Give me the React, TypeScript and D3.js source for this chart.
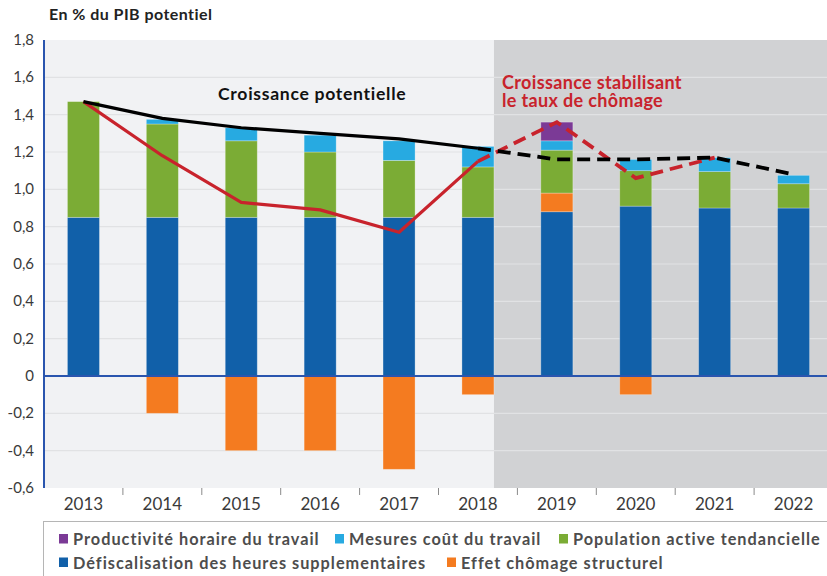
import React from "react";
import * as d3 from "d3";

const years = ["2013","2014","2015","2016","2017","2018","2019","2020","2021","2022"];
const defiscalisation = [0.85,0.85,0.85,0.85,0.85,0.85,0.88,0.91,0.90,0.90];
const effetChomage = [0,-0.2,-0.4,-0.4,-0.5,-0.1,0.10,-0.1,0,0];
const populationActive = [0.62,0.50,0.41,0.35,0.305,0.27,0.23,0.19,0.195,0.13];
const mesuresCout = [0,0.025,0.07,0.09,0.105,0.11,0.05,0.06,0.075,0.045];
const productivite = [0,0,0,0,0,0,0.10,0,0,0];
const croissancePotentielle = [1.47,1.38,1.33,1.30,1.27,1.22,1.16,1.16,1.17,1.08];
const croissanceStabilisant = [1.47,1.18,0.93,0.89,0.77,1.15,1.36,1.06,1.17,null];
const yTicks = [-0.6,-0.4,-0.2,0,0.2,0.4,0.6,0.8,1.0,1.2,1.4,1.6,1.8];

const seriesKeys = ["def","eff","pop","mes","prod"];
const seriesColors: Record<string,string> = {
  def: "#1160a9", eff: "#f47b20", pop: "#7bac35", mes: "#27aae1", prod: "#7b3a96",
};
const legendRow1 = [
  { key: "prod", label: "Productivité horaire du travail" },
  { key: "mes", label: "Mesures coût du travail" },
  { key: "pop", label: "Population active tendancielle" },
];
const legendRow2 = [
  { key: "def", label: "Défiscalisation des heures supplementaires" },
  { key: "eff", label: "Effet chômage structurel" },
];

const FONT = "Lato, 'Open Sans', sans-serif";

export default function App() {
  const W = 827, H = 576;
  const left = 44, right = 833, top = 40, bottom = 488;
  const x = d3.scaleBand<string>().domain(years).range([left, right]).paddingInner(0.594).paddingOuter(0.297);
  const y = d3.scaleLinear().domain([-0.6, 1.8]).range([bottom, top]);
  const bw = x.bandwidth();
  const cx = (i: number) => (x(years[i]) as number) + bw / 2;

  const table = years.map((yr, i) => ({
    year: yr, def: defiscalisation[i], eff: effetChomage[i], pop: populationActive[i], mes: mesuresCout[i], prod: productivite[i],
  }));
  const stacked = d3.stack<any>().keys(seriesKeys).offset(d3.stackOffsetDiverging)(table);

  const lineGen = d3.line<[number, number]>().x(d => d[0]).y(d => d[1]);
  const pts = (arr: (number|null)[], from: number, to: number) => {
    const out: [number, number][] = [];
    for (let i = from; i <= to; i++) if (arr[i] !== null) out.push([cx(i), y(arr[i] as number)]);
    return out;
  };

  const fmt = (v: number) => v === 0 ? "0" : d3.format(".1f")(v).replace(".", ",").replace("−", "-");
  const grayStart = (x("2018") as number) + bw;
  const bands = years.map((_, i) => (x(years[i]) as number) - (x.step() - bw) / 2);

  return (
    <svg width={W} height={H} style={{ position: "absolute", left: 0, top: 0, background: "#fff" }} fontFamily={FONT}>
      <text x={49} y={20} fontSize={16} fontWeight={700} fill="#222" letterSpacing={0.45}>En % du PIB potentiel</text>
      <rect x={left} y={top} width={grayStart - left} height={bottom - top} fill="#f1f2f4" />
      <rect x={grayStart} y={top} width={W - grayStart} height={bottom - top} fill="#d1d2d4" />
      {yTicks.filter(t => t !== 0 && t !== 1.8 && t !== -0.6).map(t => (
        <line key={t} x1={left} x2={W} y1={y(t)} y2={y(t)} stroke="#e1e2e4" strokeWidth={1.2} />
      ))}
      {yTicks.map(t => (
        <text key={"l" + t} x={34} y={y(t) + 5} textAnchor="end" fontSize={15} fill="#3a3a3a">{fmt(t)}</text>
      ))}
      {stacked.map(s => (
        <g key={s.key} fill={seriesColors[s.key]}>
          {s.map((d, i) => {
            const y0 = Math.min(y(d[0]), y(d[1]));
            const h = Math.abs(y(d[0]) - y(d[1]));
            if (h < 0.01) return null;
            return <rect key={i} x={x(years[i])} y={y0} width={bw} height={h} stroke="#ffffff" strokeOpacity={0.35} strokeWidth={0.8} />;
          })}
        </g>
      ))}
      <line x1={left} x2={W} y1={y(0)} y2={y(0)} stroke="#2a55ae" strokeWidth={2} />
      <line x1={left} x2={left} y1={top} y2={bottom} stroke="#2a55ae" strokeWidth={2} />
      {bands.slice(1).map((bx, i) => (
        <line key={"t" + i} x1={bx} x2={bx} y1={bottom} y2={bottom + 7} stroke="#8a8a8a" strokeWidth={1} />
      ))}
      {years.map((yr, i) => (
        <text key={"x" + yr} x={cx(i)} y={510} textAnchor="middle" fontSize={17} fill="#3a3a3a">{yr}</text>
      ))}
      <path d={lineGen(pts(croissanceStabilisant, 0, 5)) || ""} fill="none" stroke="#c8232c" strokeWidth={3.2} strokeLinejoin="round" />
      <path d={lineGen(pts(croissanceStabilisant, 5, 8)) || ""} fill="none" stroke="#c8232c" strokeWidth={3.8} strokeDasharray="13 7" />
      <path d={lineGen(pts(croissancePotentielle, 0, 5)) || ""} fill="none" stroke="#000" strokeWidth={3.2} strokeLinejoin="round" />
      <path d={lineGen(pts(croissancePotentielle, 5, 9)) || ""} fill="none" stroke="#000" strokeWidth={3.8} strokeDasharray="13 7" />
      <text x={218} y={100} fontSize={17.6} fontWeight={700} fill="#111" letterSpacing={0.7}>Croissance potentielle</text>
      <text x={502} y={89} fontSize={18} fontWeight={700} fill="#c8232c" letterSpacing={0.35}>Croissance stabilisant</text>
      <text x={502} y={107} fontSize={18} fontWeight={700} fill="#c8232c" letterSpacing={0.35}>le taux de chômage</text>
      <rect x={43.5} y={521.5} width={900} height={100} fill="#fff" stroke="#b5b5b5" strokeWidth={1} />
      {[legendRow1, legendRow2].map((row, r) => {
        const xs = r === 0 ? [59, 335, 559] : [59, 447];
        return row.map((it, j) => (
          <g key={it.key}>
            <rect x={xs[j]} y={534 + r * 23.5} width={9} height={9.5} fill={seriesColors[it.key]} />
            <text x={xs[j] + 14} y={545 + r * 23.5} fontSize={16.3} fontWeight={700} fill="#4d4d4d" letterSpacing={1}>{it.label}</text>
          </g>
        ));
      })}
    </svg>
  );
}
